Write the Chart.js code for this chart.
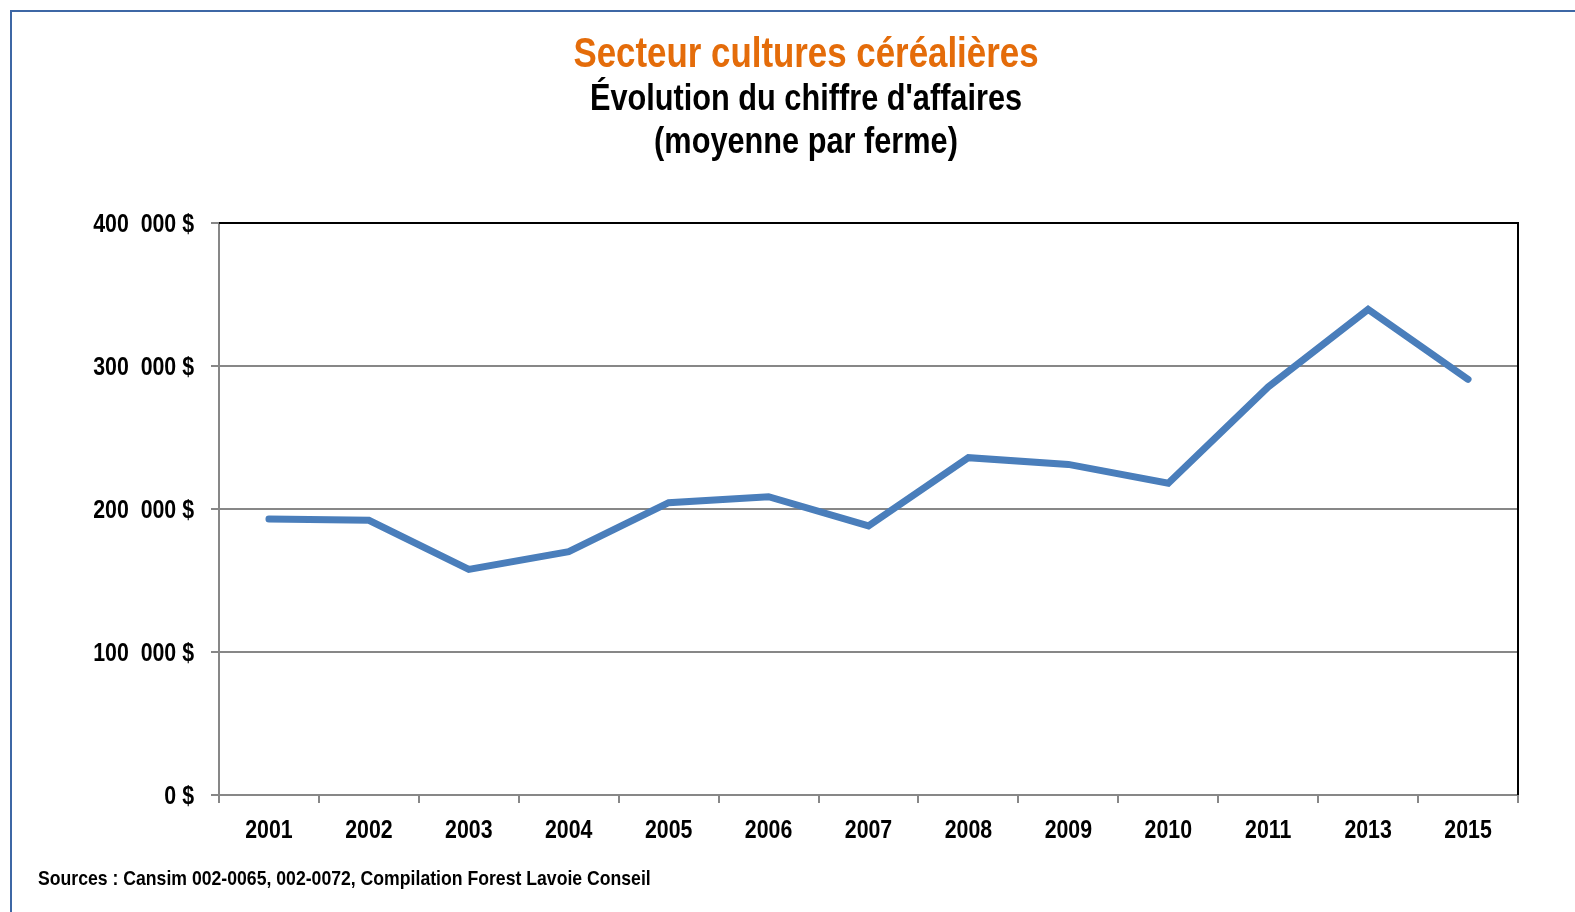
<!DOCTYPE html>
<html lang="fr">
<head>
<meta charset="utf-8">
<title>Secteur cultures céréalières</title>
<script src="https://cdn.jsdelivr.net/npm/chart.js@4.4.1/dist/chart.umd.min.js"></script>
<style>
  html, body { margin: 0; padding: 0; background: #fff; }
  body { width: 1575px; height: 912px; position: relative; overflow: hidden;
         font-family: "Liberation Sans", Arial, sans-serif; font-weight: bold; }
  #frame { position: absolute; left: 10px; top: 10px; width: 1700px; height: 1000px;
           border-left: 2px solid #3d67a5; border-top: 2px solid #3d67a5; }
  .title { position: absolute; left: 0; width: 1612px; text-align: center; line-height: 1;
           white-space: nowrap; transform: scaleX(0.83); transform-origin: 806px 0; }
  #t1 { top: 32px; font-size: 42px; color: #e46c0a; }
  #t2 { top: 79px; font-size: 37px; color: #000; }
  #t3 { top: 122px; font-size: 37px; color: #000; }
  #sources { position: absolute; left: 38px; top: 866px; font-size: 21px; color: #000; white-space: nowrap;
             transform: scaleX(0.84); transform-origin: 0 0; }
  #chart { position: absolute; left: 0; top: 0; }
</style>
</head>
<body>
<div id="frame"></div>
<canvas id="chart" width="1575" height="912"></canvas>
<div class="title" id="t1">Secteur cultures céréalières</div>
<div class="title" id="t2">Évolution du chiffre d'affaires</div>
<div class="title" id="t3">(moyenne par ferme)</div>
<div id="sources">Sources : Cansim 002-0065, 002-0072, Compilation Forest Lavoie Conseil</div>
<script>
// Années (catégories) et chiffre d'affaires moyen par ferme ($)
const years = ['2001', '2002', '2003', '2004', '2005', '2006', '2007', '2008', '2009', '2010', '2011', '2013', '2015'];
const revenue = [193000, 192100, 157800, 170100, 204400, 208600, 188200, 235900, 231200, 218000, 285300, 339600, 290700];
const yTicks = [0, 100000, 200000, 300000, 400000];

const fontFamily = '"Liberation Sans", Arial, sans-serif';
const gridGray = '#878787';

// pas d'Arial Narrow installé : on compresse le texte du canvas horizontalement
const canvas = document.getElementById('chart');
const ctx2d = canvas.getContext('2d');
const origFillText = ctx2d.fillText.bind(ctx2d);
ctx2d.fillText = function (text, x, y, maxWidth) {
    this.save();
    this.translate(x, y);
    this.scale(0.82, 1);
    origFillText(text, 0, 0, maxWidth);
    this.restore();
};

// bordure noire de la zone de tracé (haut et droite), comme dans Excel
const plotBorder = {
    id: 'plotBorder',
    beforeDatasetsDraw(chart) {
        const { ctx, chartArea } = chart;
        ctx.save();
        ctx.strokeStyle = '#000';
        ctx.lineWidth = 2;
        ctx.beginPath();
        ctx.moveTo(chartArea.left, chartArea.top);
        ctx.lineTo(chartArea.right, chartArea.top);
        ctx.lineTo(chartArea.right, chartArea.bottom);
        ctx.stroke();
        ctx.restore();
    }
};

const formatDollars = (v) => {
    if (v === 0) return '0 $';
    return (v / 1000) + '  000 $';
};

new Chart(ctx2d, {
    type: 'line',
    data: {
        labels: years,
        datasets: [{
            label: "Chiffre d'affaires",
            data: revenue,
            borderColor: '#4a7ebb',
            backgroundColor: '#4a7ebb',
            borderWidth: 7,
            borderCapStyle: 'round',
            borderJoinStyle: 'miter',
            pointRadius: 0,
            tension: 0,
            fill: false
        }]
    },
    options: {
        responsive: false,
        animation: false,
        layout: { padding: { top: 223, right: 57, bottom: 0, left: 0 } },
        plugins: {
            legend: { display: false },
            tooltip: { enabled: false }
        },
        scales: {
            x: {
                offset: true,
                grid: {
                    offset: true,
                    drawOnChartArea: false,
                    tickLength: 8,
                    color: gridGray,
                    lineWidth: 2
                },
                border: { color: gridGray, width: 2 },
                ticks: {
                    color: '#000',
                    padding: 12,
                    maxRotation: 0,
                    autoSkip: false,
                    font: { family: fontFamily, size: 26, weight: 'bold' }
                },
                afterFit(scale) { scale.height = 117; }
            },
            y: {
                min: 0,
                max: 400000,
                afterBuildTicks(scale) { scale.ticks = yTicks.map(v => ({ value: v })); },
                grid: {
                    tickLength: 8,
                    color: (ctx) => ctx.tick && ctx.tick.value === 400000 ? 'rgba(0,0,0,0)' : gridGray,
                    tickColor: gridGray,
                    lineWidth: 2
                },
                border: { color: gridGray, width: 2 },
                ticks: {
                    color: '#000',
                    padding: 17,
                    labelOffset: 2,
                    callback: (v) => formatDollars(v),
                    font: { family: fontFamily, size: 26, weight: 'bold' }
                },
                afterFit(scale) { scale.width = 219; }
            }
        }
    },
    plugins: [plotBorder]
});
</script>
</body>
</html>
